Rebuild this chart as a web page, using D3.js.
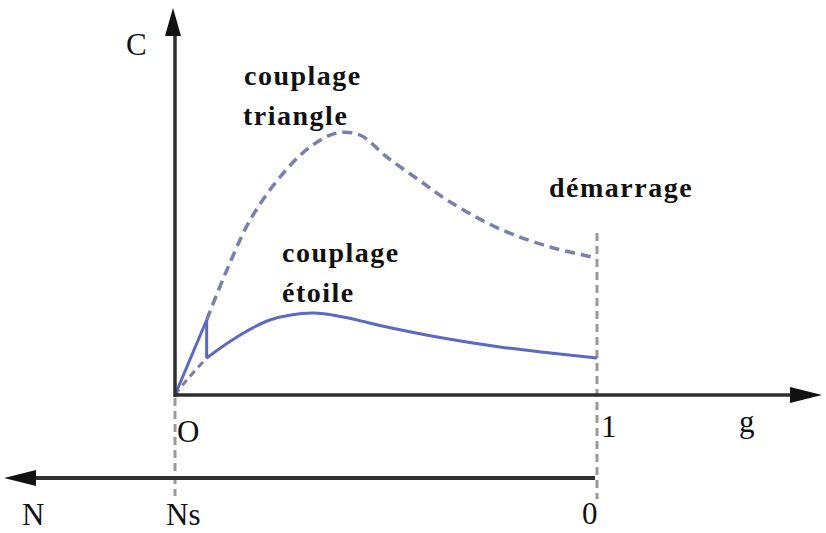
<!DOCTYPE html>
<html>
<head>
<meta charset="utf-8">
<script src="https://cdn.jsdelivr.net/npm/d3@7"></script>
<style>
  html, body { margin: 0; padding: 0; background: #fff; }
  svg { display: block; }
  .lbl { font-family: "Liberation Serif", "DejaVu Serif", serif; fill: #111; }
  .big { font-size: 28px; font-weight: bold; letter-spacing: 1.5px; }
  .axl { font-size: 31px; }
</style>
</head>
<body>
<script>
// Torque C versus slip g for a star-delta start
const switchG = 0.075;

const triangleG = [0, 0.075, 0.123, 0.178, 0.249, 0.32, 0.384, 0.438, 0.502, 0.581, 0.652, 0.77, 0.889, 1.0];
const triangleC = [0, 0.75, 1.25, 1.75, 2.18, 2.48, 2.62, 2.60, 2.38, 2.14, 1.93, 1.66, 1.48, 1.37];

const starG = [0, 0.028, 0.075, 0.147, 0.225, 0.327, 0.398, 0.502, 0.621, 0.77, 0.889, 1.0];
const starC = [0, 0.15, 0.37, 0.58, 0.75, 0.82, 0.78, 0.68, 0.58, 0.48, 0.42, 0.37];

const W = 826, H = 533;
const svg = d3.select("body").append("svg").attr("width", W).attr("height", H);

const x = d3.scaleLinear().domain([0, 1]).range([175, 597]);
const y = d3.scaleLinear().domain([0, 3.87]).range([395, 8]);

const tri = triangleG.map((g, i) => ({ g, c: triangleC[i] }));
const star = starG.map((g, i) => ({ g, c: starC[i] }));

const line = d3.line().x(d => x(d.g)).y(d => y(d.c)).curve(d3.curveCatmullRom.alpha(0.5));

const solidCol = "#5a69c4", dashCol = "#7a80aa", guideCol = "#9a9a9a", axisCol = "#2e2e2e";

// guide lines at g = 0 and g = 1
svg.append("line").attr("x1", x(0)).attr("x2", x(0)).attr("y1", y(0) + 3).attr("y2", 496)
  .attr("stroke", guideCol).attr("stroke-width", 3).attr("stroke-dasharray", "8,5");
svg.append("line").attr("x1", x(1)).attr("x2", x(1)).attr("y1", 233).attr("y2", 499)
  .attr("stroke", guideCol).attr("stroke-width", 3).attr("stroke-dasharray", "8,5");

// dashed (not followed) portions
svg.append("path").attr("d", line(tri.filter(d => d.g >= switchG)))
  .attr("fill", "none").attr("stroke", dashCol).attr("stroke-width", 3.5).attr("stroke-dasharray", "10,6");
svg.append("path").attr("d", line(star.filter(d => d.g <= switchG)))
  .attr("fill", "none").attr("stroke", dashCol).attr("stroke-width", 3).attr("stroke-dasharray", "7,5");

// solid operating path: star from start, jump to delta, delta to synchronism
svg.append("path").attr("d", line(star.filter(d => d.g >= switchG)))
  .attr("fill", "none").attr("stroke", solidCol).attr("stroke-width", 3);
svg.append("path").attr("d", line(tri.filter(d => d.g <= switchG)))
  .attr("fill", "none").attr("stroke", solidCol).attr("stroke-width", 3);
const ts = tri.find(d => d.g === switchG), ss = star.find(d => d.g === switchG);
svg.append("line").attr("x1", x(ts.g)).attr("y1", y(ts.c)).attr("x2", x(ss.g)).attr("y2", y(ss.c))
  .attr("stroke", solidCol).attr("stroke-width", 3);

// axes
svg.append("line").attr("x1", x(0)).attr("x2", 800).attr("y1", y(0)).attr("y2", y(0))
  .attr("stroke", axisCol).attr("stroke-width", 3.5);
svg.append("path").attr("d", `M822,${y(0)} L790,${y(0) - 8} L790,${y(0) + 8} Z`).attr("fill", "#111");

svg.append("line").attr("x1", x(0)).attr("x2", x(0)).attr("y1", y(0) + 2).attr("y2", 30)
  .attr("stroke", axisCol).attr("stroke-width", 3.5);
svg.append("path").attr("d", `M${x(0) - 2},8 L${x(0) - 10},36 L${x(0) + 6},36 Z`).attr("fill", "#111");

// speed axis N (pointing left)
svg.append("line").attr("x1", x(1) - 2).attr("x2", 30).attr("y1", 478).attr("y2", 478)
  .attr("stroke", axisCol).attr("stroke-width", 4);
svg.append("path").attr("d", "M4,478 L36,470 L36,486 Z").attr("fill", "#111");

// labels
const txt = (s, px, py, cls) => svg.append("text").attr("class", "lbl " + cls).attr("x", px).attr("y", py).text(s);
txt("C", 126, 55, "axl");
txt("O", 177, 442, "axl");
txt("1", 601, 437, "axl");
txt("g", 739, 432, "axl");
txt("N", 22, 525, "axl");
txt("Ns", 166, 525, "axl");
txt("0", 582, 524, "axl");

txt("couplage", 244, 85, "big");
txt("triangle", 243, 125, "big");
txt("couplage", 282, 262, "big");
txt("étoile", 282, 302, "big");
txt("démarrage", 549, 197, "big");
</script>
</body>
</html>
